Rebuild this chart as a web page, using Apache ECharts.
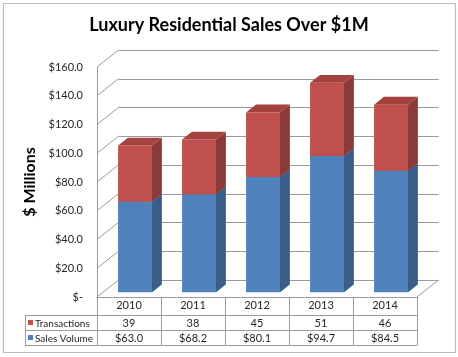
<!DOCTYPE html>
<html><head><meta charset="utf-8">
<script src="https://cdn.jsdelivr.net/npm/echarts@6/dist/echarts.min.js"></script>
<style>html,body{margin:0;padding:0;background:#fff}#c{width:458px;height:357px}</style>
</head><body><div id="c"></div>
<script>
// ---- data ----
const categories = ['2010', '2011', '2012', '2013', '2014'];
const salesVolume = [63.0, 68.2, 80.1, 94.7, 84.5];
const transactions = [39, 38, 45, 51, 46];
const yTicks = [0, 20, 40, 60, 80, 100, 120, 140, 160];
const seriesNames = ['Transactions', 'Sales Volume'];
const titleText = 'Luxury Residential Sales Over $1M';
const yAxisName = '$ Millions';

// ---- layout / style ----
const FONT = 'Lato, "Open Sans", sans-serif';
const GL = 97, GT = 67, GW = 320, GH = 230;
const DX = 21.5, DY = -17;          // depth offset of the back wall
const F1 = 0.28, F2 = 0.74, BW = 0.53; // bar depth fractions and width ratio
const COLORS = {
  blue: { front: '#4F81BD', side: '#385D8A', top: '#4672AA' },
  red:  { front: '#C0504D', side: '#8C3A37', top: '#A4423F' }
};
const GRID_COLOR = '#9C9C9C';
const TEXT_COLOR = '#262626';
function money(v) { return v === 0 ? '$-' : '$' + v.toFixed(1); }

function barRender(colors) {
  return function (params, api) {
    const cat = api.value(0), lo = api.value(1), hi = api.value(2);
    const band = api.size([1, 0])[0];
    const pb = api.coord([cat, lo]), pt = api.coord([cat, hi]);
    const w = band * BW;
    const x0 = pb[0] - w / 2 + DX * F1, x1 = x0 + w;
    const yb = pb[1] + DY * F1, yt = pt[1] + DY * F1;
    const dx = DX * (F2 - F1), dy = DY * (F2 - F1);
    return { type: 'group', children: [
      { type: 'rect', shape: { x: x0, y: yt, width: w, height: yb - yt }, style: { fill: colors.front } },
      { type: 'polygon', shape: { points: [[x1, yb], [x1 + dx, yb + dy], [x1 + dx, yt + dy], [x1, yt]] }, style: { fill: colors.side } },
      { type: 'polygon', shape: { points: [[x0, yt], [x1, yt], [x1 + dx, yt + dy], [x0 + dx, yt + dy]] }, style: { fill: colors.top } }
    ]};
  };
}

function wallRender(params, api) {
  const v = api.value(1);
  const band = api.size([1, 0])[0];
  const pl = api.coord([0, v]);
  const pr = api.coord([categories.length - 1, v]);
  const xl = pl[0] - band / 2, xr = pr[0] + band / 2;
  const children = [
    { type: 'line', shape: { x1: xl, y1: pl[1], x2: xl + DX, y2: pl[1] + DY }, style: { stroke: GRID_COLOR, lineWidth: 1 } }
  ];
  if (v === 0) {
    children.push({ type: 'line', shape: { x1: xr, y1: pl[1], x2: xr + DX, y2: pl[1] + DY }, style: { stroke: GRID_COLOR, lineWidth: 1 } });
  }
  return { type: 'group', children };
}

// ---- data table (graphic) ----
const colW = GW / categories.length;
const tTop = GT + GH, r1 = 315, r2 = 330, r3 = 345, tLeft = 25;
const graphic = [];
graphic.push({ type: 'rect', shape: { x: 3.5, y: 3.5, width: 452, height: 349 }, style: { fill: 'none', stroke: '#BDBDBD', lineWidth: 1.2 }, silent: true });
for (let k = 0; k <= categories.length; k++) {
  const x = Math.round(GL + k * colW) + 0.5;
  graphic.push({ type: 'line', shape: { x1: x, y1: tTop, x2: x, y2: r3 }, style: { stroke: GRID_COLOR, lineWidth: 1 } });
}
graphic.push({ type: 'line', shape: { x1: tLeft + 0.5, y1: r1, x2: tLeft + 0.5, y2: r3 }, style: { stroke: GRID_COLOR, lineWidth: 1 } });
[r1, r2, r3].forEach(y => {
  graphic.push({ type: 'line', shape: { x1: tLeft, y1: y + 0.5, x2: GL + GW + 0.5, y2: y + 0.5 }, style: { stroke: GRID_COLOR, lineWidth: 1 } });
});
const rows = [
  { name: seriesNames[0], color: COLORS.red.front, vals: transactions.map(v => String(v)), y: (r1 + r2) / 2 },
  { name: seriesNames[1], color: COLORS.blue.front, vals: salesVolume.map(money), y: (r2 + r3) / 2 }
];
rows.forEach(r => {
  graphic.push({ type: 'rect', shape: { x: 28, y: r.y - 2.5, width: 5, height: 5 }, style: { fill: r.color } });
  graphic.push({ type: 'text', x: 35, y: r.y + 1, style: { text: r.name, font: '10px ' + FONT, fill: TEXT_COLOR, verticalAlign: 'middle', textAlign: 'left' } });
  r.vals.forEach((t, i) => {
    graphic.push({ type: 'text', x: GL + colW * (i + 0.5), y: r.y + 1, style: { text: t, font: '11px ' + FONT, fill: TEXT_COLOR, verticalAlign: 'middle', textAlign: 'center' } });
  });
});

const chart = echarts.init(document.getElementById('c'), null, { renderer: 'canvas' });
chart.setOption({
  animation: false,
  backgroundColor: '#fff',
  title: { text: titleText, left: 'center', top: 11, textStyle: { fontFamily: FONT, fontSize: 18, fontWeight: 'bold', color: '#000' } },
  grid: [
    { left: GL, top: GT, width: GW, height: GH },
    { left: GL + DX, top: GT + DY, width: GW, height: GH }
  ],
  xAxis: [
    { type: 'category', gridIndex: 0, data: categories, axisLine: { show: true, lineStyle: { color: GRID_COLOR } }, axisTick: { show: false },
      axisLabel: { margin: 3, fontFamily: FONT, fontSize: 11, color: TEXT_COLOR } },
    { type: 'category', gridIndex: 1, data: categories, show: false }
  ],
  yAxis: [
    { type: 'value', gridIndex: 0, min: 0, max: 160, interval: 20, splitLine: { show: false },
      axisLine: { show: true, lineStyle: { color: GRID_COLOR } }, axisTick: { show: false },
      axisLabel: { margin: 14, fontFamily: FONT, fontSize: 11, color: TEXT_COLOR, formatter: money },
      name: yAxisName, nameLocation: 'middle', nameRotate: 90, nameGap: 58,
      nameTextStyle: { fontFamily: FONT, fontSize: 16, fontWeight: 'bold', color: '#000' } },
    { type: 'value', gridIndex: 1, min: 0, max: 160, interval: 20, axisLine: { show: false }, axisTick: { show: false }, axisLabel: { show: false },
      splitLine: { show: true, lineStyle: { color: GRID_COLOR, width: 1 } } }
  ],
  series: [
    { type: 'custom', name: 'walls', xAxisIndex: 0, yAxisIndex: 0, silent: true, z: 1,
      data: yTicks.map(v => [0, v]), encode: { x: 0, y: 1 }, renderItem: wallRender },
    { type: 'custom', name: seriesNames[1], xAxisIndex: 0, yAxisIndex: 0, z: 3,
      data: categories.map((c, i) => [i, 0, salesVolume[i]]), encode: { x: 0, y: [1, 2] }, renderItem: barRender(COLORS.blue) },
    { type: 'custom', name: seriesNames[0], xAxisIndex: 0, yAxisIndex: 0, z: 4,
      data: categories.map((c, i) => [i, salesVolume[i], salesVolume[i] + transactions[i]]), encode: { x: 0, y: [1, 2] }, renderItem: barRender(COLORS.red) }
  ],
  graphic: graphic
});
</script></body></html>
